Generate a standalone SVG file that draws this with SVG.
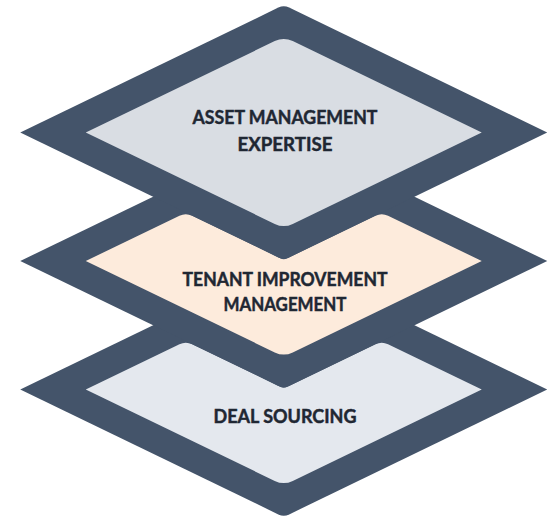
<svg xmlns="http://www.w3.org/2000/svg" width="548" height="518" viewBox="0 0 548 518">
  <style>
    .frame { fill: #44546A; }
    .fill-top { fill: #D9DDE3; }
    .fill-mid { fill: #FDEBDC; }
    .fill-bot { fill: #E4E8EE; }
    .label { font-family: "Lato", "Liberation Sans", sans-serif; font-weight: 700; font-size: 18px; fill: #1F2733; stroke: #1F2733; stroke-width: 0.45; text-anchor: middle; }
  </style>
  <defs>
    <!-- outer frame of one layer, centred on (0,0) -->
    <path id="frame" d="M -5.4,-124.9 Q 0,-127.5 5.4,-124.9 L 263.5,0 L 5.4,124.9 Q 0,127.5 -5.4,124.9 L -263.5,0 Z"/>
    <!-- visible part of a lower layer's face, notched by the layer above -->
    <path id="chevron" d="M -198,0 L -104.3,-45.35 Q -98,-48.4 -91.7,-45.35 L -3.6,-2.74 Q 0,-1 3.6,-2.74 L 91.7,-45.35 Q 98,-48.4 104.3,-45.35 L 198,0 L 9,91.44 Q 0,95.8 -9,91.44 Z"/>
  </defs>

  <!-- bottom layer -->
  <g id="deal-sourcing" transform="translate(283.75,389.5)">
    <use href="#frame" class="frame"/>
    <use href="#chevron" class="fill-bot"/>
    <text class="label" x="1.25" y="33.2" textLength="143" lengthAdjust="spacingAndGlyphs">DEAL SOURCING</text>
  </g>

  <!-- middle layer -->
  <g id="tenant-improvement" transform="translate(283.75,261)">
    <use href="#frame" class="frame"/>
    <use href="#chevron" class="fill-mid"/>
    <text class="label" x="1.25" y="24.7" textLength="205" lengthAdjust="spacingAndGlyphs">TENANT IMPROVEMENT</text>
    <text class="label" x="1.25" y="49.7" textLength="123" lengthAdjust="spacingAndGlyphs">MANAGEMENT</text>
  </g>

  <!-- top layer -->
  <g id="asset-management" transform="translate(283.75,132.5)">
    <use href="#frame" class="frame"/>
    <path class="fill-top" d="M -9,-91.44 Q 0,-95.8 9,-91.44 L 198,0 L 9,91.44 Q 0,95.8 -9,91.44 L -198,0 Z"/>
    <text class="label" x="1.25" y="-8.2" textLength="185" lengthAdjust="spacingAndGlyphs">ASSET MANAGEMENT</text>
    <text class="label" x="1.25" y="18.5" textLength="95" lengthAdjust="spacingAndGlyphs">EXPERTISE</text>
  </g>

  <g id="connectors"/>
</svg>
